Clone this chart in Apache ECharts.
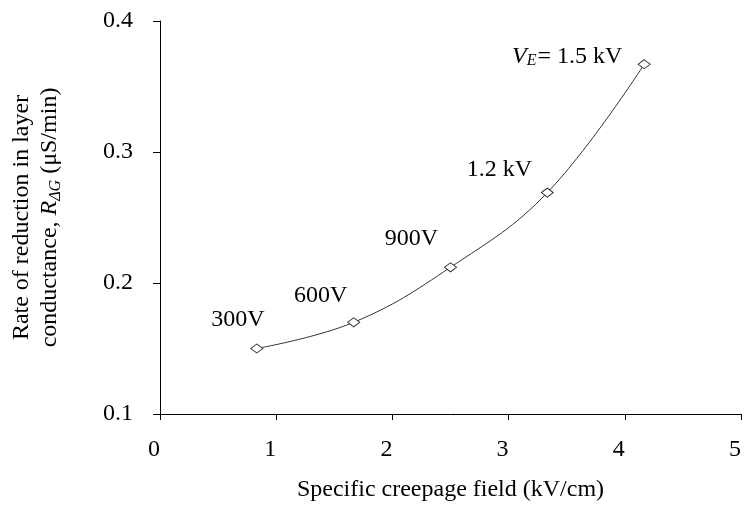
<!DOCTYPE html>
<html><head><meta charset="utf-8">
<script src="https://cdn.jsdelivr.net/npm/echarts@6/dist/echarts.min.js"></script>
<style>html,body{margin:0;padding:0;background:#fff}#c{width:752px;height:518px}</style>
</head><body><div id="c"></div>
<script>
var fieldKVcm = [0.833, 1.667, 2.5, 3.333, 4.167];
var rateValues = [0.150, 0.170, 0.212, 0.269, 0.367];
var voltageLabels = ['300V', '600V', '900V', '1.2 kV', '{v|V}{sub|E}{n|= 1.5 kV}'];
var xTicks = [0, 1, 2, 3, 4, 5];
var yTicks = [0.1, 0.2, 0.3, 0.4];
var labelOffsets = [[-19, -29], [-33, -27], [-39, -29], [-48, -23], [-77, -8]];

var FONT = 'Liberation Serif';
var chart = echarts.init(document.getElementById('c'), null, {renderer: 'canvas'});
var data = fieldKVcm.map(function (x, i) {
  return {
    value: [x, rateValues[i]],
    label: {
      show: true,
      formatter: voltageLabels[i],
      position: 'inside',
      offset: labelOffsets[i],
      fontFamily: FONT, fontSize: 24, color: '#000',
      rich: {
        v: {fontFamily: FONT, fontSize: 24, fontStyle: 'italic', color: '#000'},
        sub: {fontFamily: FONT, fontSize: 16, fontStyle: 'italic', color: '#000', verticalAlign: 'bottom', padding: [10, 1, 0, 0]},
        n: {fontFamily: FONT, fontSize: 24, color: '#000'}
      }
    }
  };
});
chart.setOption({
  animation: false,
  grid: {left: 156, right: 11, top: 21, bottom: 104},
  xAxis: {
    type: 'value', min: xTicks[0], max: xTicks[xTicks.length - 1], interval: 1,
    name: 'Specific creepage field (kV/cm)', nameLocation: 'middle', nameGap: 64,
    nameTextStyle: {fontFamily: FONT, fontSize: 24, color: '#000'},
    axisLine: {show: true, onZero: false, lineStyle: {color: '#000', width: 1}},
    axisTick: {show: true, length: 6, lineStyle: {color: '#000'}},
    axisLabel: {fontFamily: FONT, fontSize: 24, color: '#000', margin: 24, padding: [0, 12, 0, 0]},
    splitLine: {show: false}
  },
  yAxis: {
    type: 'value', min: yTicks[0], max: yTicks[yTicks.length - 1], interval: 0.1,
    name: 'Rate of reduction in layer\nconductance, {i|R}{s|ΔG} (μS/min)',
    nameLocation: 'middle', nameGap: 96, nameRotate: 90,
    nameTextStyle: {
      fontFamily: FONT, fontSize: 24, color: '#000', lineHeight: 28,
      rich: {
        i: {fontFamily: FONT, fontSize: 24, fontStyle: 'italic', color: '#000'},
        s: {fontFamily: FONT, fontSize: 16, fontStyle: 'italic', color: '#000', verticalAlign: 'bottom', padding: [8, 0, 0, 0]}
      }
    },
    axisLine: {show: true, lineStyle: {color: '#000', width: 1}},
    axisTick: {show: true, length: 7, lineStyle: {color: '#000'}},
    axisLabel: {fontFamily: FONT, fontSize: 24, color: '#000', margin: 27,
      formatter: function (v) { return v.toFixed(1); }},
    splitLine: {show: false}
  },
  series: [{
    type: 'line',
    data: data,
    smooth: 0.4,
    symbol: 'diamond',
    symbolSize: [12, 9],
    lineStyle: {color: '#333', width: 1},
    itemStyle: {color: '#fff', borderColor: '#333', borderWidth: 1}
  }]
});
</script></body></html>
